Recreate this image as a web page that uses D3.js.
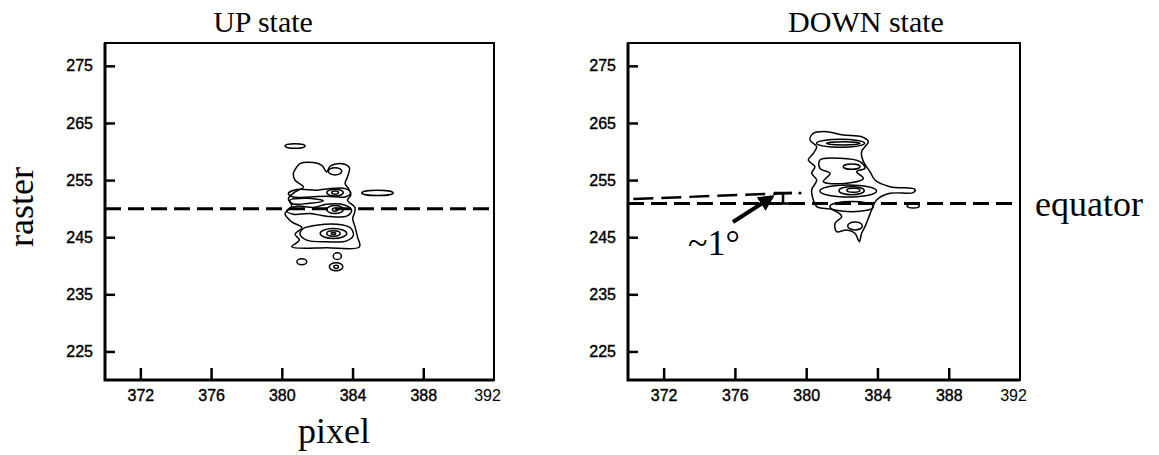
<!DOCTYPE html>
<html>
<head>
<meta charset="utf-8">
<script src="https://cdn.jsdelivr.net/npm/d3@7"></script>
<style>
  body { margin: 0; background: #fff; }
  svg { display: block; }
  .tick text { font-family: 'Liberation Sans', Arial, sans-serif; font-size: 16px; fill: #000; }
  .lbl { font-family: 'Liberation Serif', 'Times New Roman', serif; fill: #000; }
</style>
</head>
<body>
<div id="chart"></div>
<script>
var width = 1159
var height = 455

// axes
var xTicks = [372, 376, 380, 384, 388, 392]
var yTicks = [225, 235, 245, 255, 265, 275]
var xDomain = [370, 392]
var yDomain = [220, 279]

// UP state contours, [pixel, raster]
var upOutline = [[380.75, 256.83], [381.03, 257.88], [381.79, 258.06], [382.26, 257.59], [382.54, 256.43],
  [382.73, 257.42], [383.39, 257.88], [383.82, 257.18], [383.71, 255.55], [383.58, 254.39], [383.77, 253.51],
  [383.90, 252.35], [383.71, 251.47], [384.14, 250.19], [384.11, 249.26], [384.01, 248.27], [384.14, 246.81],
  [384.28, 245.06], [384.39, 243.31], [382.54, 243.14], [380.56, 243.31], [380.99, 244.48], [380.75, 245.53],
  [381.13, 246.69], [380.56, 247.68], [380.18, 249.14], [380.56, 250.42], [380.37, 251.76], [380.75, 252.93],
  [381.22, 253.80], [380.75, 254.97], [380.65, 256.13]]
var upRow253 = [[380.37, 252.64], [380.84, 253.34], [381.97, 253.22], [382.54, 253.45], [383.58, 253.51],
  [383.90, 252.75], [383.58, 252.05], [382.54, 252.17], [381.60, 252.05], [380.65, 252.05]]
var upRow250 = [[380.28, 249.61], [380.84, 250.42], [381.79, 250.19], [382.54, 250.77], [383.58, 250.60],
  [383.95, 249.72], [383.67, 248.68], [382.54, 248.68], [381.60, 249.14], [380.65, 249.03]]
var upRow245 = [[381.22, 246.52], [381.97, 247.10], [383.11, 247.28], [383.86, 246.69], [384.05, 245.35],
  [383.67, 244.36], [382.54, 244.19], [381.41, 244.48], [381.03, 245.53]]
var upWave = [[380.45, 251.45], [381.41, 251.80], [382.35, 251.40], [381.60, 250.95], [380.60, 250.85]]
// [pixel, raster, half-width, half-height]
var upOvals = [[380.75, 260.97, 0.57, 0.41], [385.41, 252.75, 0.89, 0.47], [381.13, 240.69, 0.28, 0.52],
  [383.14, 241.68, 0.23, 0.58], [383.07, 239.82, 0.38, 0.70], [383.07, 239.82, 0.13, 0.29],
  [383.01, 256.54, 0.38, 0.64], [383.01, 252.81, 0.47, 0.58], [383.01, 252.81, 0.19, 0.29],
  [383.01, 249.84, 0.47, 0.70], [383.01, 249.84, 0.15, 0.29], [382.92, 245.65, 0.75, 0.87],
  [382.92, 245.65, 0.38, 0.47], [382.92, 245.65, 0.13, 0.17]]

// DOWN state contours
var downOutline = [[380.21, 262.02], [380.40, 263.19], [381.15, 263.48], [382.08, 262.89], [383.11, 262.60],
  [383.49, 261.73], [383.30, 260.85], [383.11, 259.98], [383.21, 258.23], [383.58, 256.48], [383.86, 255.02],
  [384.70, 253.85], [386.11, 253.38], [386.01, 252.80], [384.70, 252.68], [383.95, 251.52], [383.67, 249.77],
  [383.49, 248.31], [383.30, 246.85], [383.11, 245.68], [382.98, 244.22], [382.74, 245.68], [382.27, 246.27],
  [381.71, 245.97], [381.62, 247.43], [381.99, 248.60], [381.52, 249.77], [380.59, 250.35], [380.40, 251.52],
  [380.31, 253.27], [380.59, 255.02], [380.31, 256.18], [380.49, 257.35], [380.12, 258.52], [380.40, 259.68],
  [380.59, 260.85]]
var downMid = [[380.77, 258.52], [381.90, 258.81], [383.02, 258.23], [383.30, 257.06], [382.83, 256.48],
  [383.21, 255.31], [382.27, 254.43], [380.96, 254.73], [381.34, 256.18], [380.77, 257.06]]
var downOvals = [[381.93, 261.44, 1.35, 0.70], [382.08, 261.44, 0.94, 0.29], [382.55, 257.35, 0.47, 0.47],
  [382.36, 253.09, 1.59, 1.05], [382.55, 253.15, 0.71, 0.70], [382.65, 253.21, 0.37, 0.35],
  [382.55, 250.35, 1.22, 0.88], [382.74, 246.97, 0.41, 0.70], [386.01, 250.47, 0.34, 0.35]]

// annotations (DOWN panel)
var upEquator = 250
var downEquator = 250.9
var tiltLine = [[370.3, 251.69], [379.2, 252.74]]
var offsetMark = [378.7, 252.74, 250.9]
var arrowLine = [[375.89, 247.66], [378.08, 252.04]]

var svg = d3.select('#chart').append('svg')
    .attr('width', width)
    .attr('height', height)

svg.append('defs').append('marker')
    .attr('id', 'head')
    .attr('viewBox', '0 0 10 10')
    .attr('refX', 8).attr('refY', 5)
    .attr('markerWidth', 4.5).attr('markerHeight', 4)
    .attr('orient', 'auto')
  .append('path').attr('d', 'M0,0L10,5L0,10z').attr('fill', '#000')

var y = d3.scaleLinear().domain(yDomain).range([380, 43])

var panels = [
  { title: 'UP state', titleX: 263, range: [105, 494], loops: [upOutline, upRow253, upRow250, upRow245, upWave], ovals: upOvals, equator: upEquator },
  { title: 'DOWN state', titleX: 866, range: [628, 1020], loops: [downOutline, downMid], ovals: downOvals, equator: downEquator }
]

panels.forEach(function (p, i) {
  var x = d3.scaleLinear().domain(xDomain).range(p.range)
  var g = svg.append('g')
  p.x = x

  g.append('text').attr('class', 'lbl')
      .attr('x', p.titleX).attr('y', 32)
      .attr('text-anchor', 'middle')
      .style('font-size', '30px')
      .text(p.title)

  // frame
  g.append('rect')
      .attr('x', p.range[0]).attr('y', y(yDomain[1]))
      .attr('width', p.range[1] - p.range[0]).attr('height', y(yDomain[0]) - y(yDomain[1]))
      .attr('fill', 'none').attr('stroke', '#000').attr('stroke-width', 2)
  g.append('path')
      .attr('d', 'M' + p.range[0] + ',' + y(yDomain[1]) + 'V' + y(yDomain[0]) + 'H' + p.range[1])
      .attr('fill', 'none').attr('stroke', '#000').attr('stroke-width', 3)

  var ya = g.append('g')
      .attr('transform', 'translate(' + p.range[0] + ',0)')
      .call(d3.axisLeft(y).tickValues(yTicks).tickSize(-10).tickPadding(12))
  var xa = g.append('g')
      .attr('transform', 'translate(0,' + y(yDomain[0]) + ')')
      .call(d3.axisBottom(x).tickValues(xTicks).tickSize(-12).tickPadding(10))
  ya.select('.domain').remove()
  xa.select('.domain').remove()
  ya.selectAll('.tick line').attr('stroke', '#000').attr('stroke-width', 2.5)
  xa.selectAll('.tick line').attr('stroke', '#000').attr('stroke-width', 2.5)
  g.selectAll('.tick text').attr('stroke', '#000').attr('stroke-width', 0.4)
  // last label sits in the corner, set in a serif face
  xa.selectAll('.tick').filter(function (d) { return d === 392 })
      .each(function () {
        d3.select(this).select('line').remove()
        d3.select(this).select('text').attr('x', -7).attr('class', 'lbl')
            .attr('stroke', null).style('font-size', '16px')
      })

  var line = d3.line()
      .x(function (d) { return x(d[0]) })
      .y(function (d) { return y(d[1]) })
      .curve(d3.curveCatmullRomClosed.alpha(0.5))

  g.selectAll('.loop').data(p.loops).enter().append('path')
      .attr('class', 'loop')
      .attr('d', line)
      .attr('fill', 'none').attr('stroke', '#000').attr('stroke-width', 1.5)

  g.selectAll('.oval').data(p.ovals).enter().append('ellipse')
      .attr('class', 'oval')
      .attr('cx', function (d) { return x(d[0]) })
      .attr('cy', function (d) { return y(d[1]) })
      .attr('rx', function (d) { return x(d[0] + d[2]) - x(d[0]) })
      .attr('ry', function (d) { return y(d[1] - d[3]) - y(d[1]) })
      .attr('fill', 'none').attr('stroke', '#000').attr('stroke-width', 1.5)

  g.append('line')
      .attr('x1', x(xDomain[0])).attr('x2', x(xDomain[1]))
      .attr('y1', y(p.equator)).attr('y2', y(p.equator))
      .attr('stroke', '#000').attr('stroke-width', 3)
      .attr('stroke-dasharray', '16,7')
})

// DOWN panel annotations
var xd = panels[1].x
svg.append('line')
    .attr('x1', xd(tiltLine[0][0])).attr('y1', y(tiltLine[0][1]))
    .attr('x2', xd(tiltLine[1][0])).attr('y2', y(tiltLine[1][1]))
    .attr('stroke', '#000').attr('stroke-width', 2.5)
    .attr('stroke-dasharray', '20,8')
// bracket between the two lines
var mx = xd(offsetMark[0])
svg.append('path')
    .attr('d', 'M' + (mx - 9) + ',' + y(offsetMark[1]) + 'H' + (mx + 9) +
      'M' + mx + ',' + y(offsetMark[1]) + 'V' + y(offsetMark[2]) +
      'M' + (mx - 7) + ',' + y(offsetMark[2]) + 'H' + (mx + 9))
    .attr('fill', 'none').attr('stroke', '#000').attr('stroke-width', 2.5)
svg.append('circle')
    .attr('cx', xd(offsetMark[0] + 0.95)).attr('cy', y(offsetMark[1]))
    .attr('r', 1.6).attr('fill', '#000')
svg.append('line')
    .attr('x1', xd(arrowLine[0][0])).attr('y1', y(arrowLine[0][1]))
    .attr('x2', xd(arrowLine[1][0])).attr('y2', y(arrowLine[1][1]))
    .attr('stroke', '#000').attr('stroke-width', 4)
    .attr('marker-end', 'url(#head)')
svg.append('text').attr('class', 'lbl')
    .attr('x', xd(373.37)).attr('y', y(241.9))
    .style('font-size', '36px')
    .text('~1°')
svg.append('text').attr('class', 'lbl')
    .attr('x', 1035).attr('y', y(downEquator) + 12)
    .style('font-size', '36px')
    .text('equator')

// shared axis titles
svg.append('text').attr('class', 'lbl')
    .attr('transform', 'translate(33,207) rotate(-90)')
    .attr('text-anchor', 'middle')
    .style('font-size', '36px')
    .text('raster')
svg.append('text').attr('class', 'lbl')
    .attr('x', 334).attr('y', 443)
    .attr('text-anchor', 'middle')
    .style('font-size', '36px')
    .text('pixel')
</script>
</body>
</html>
